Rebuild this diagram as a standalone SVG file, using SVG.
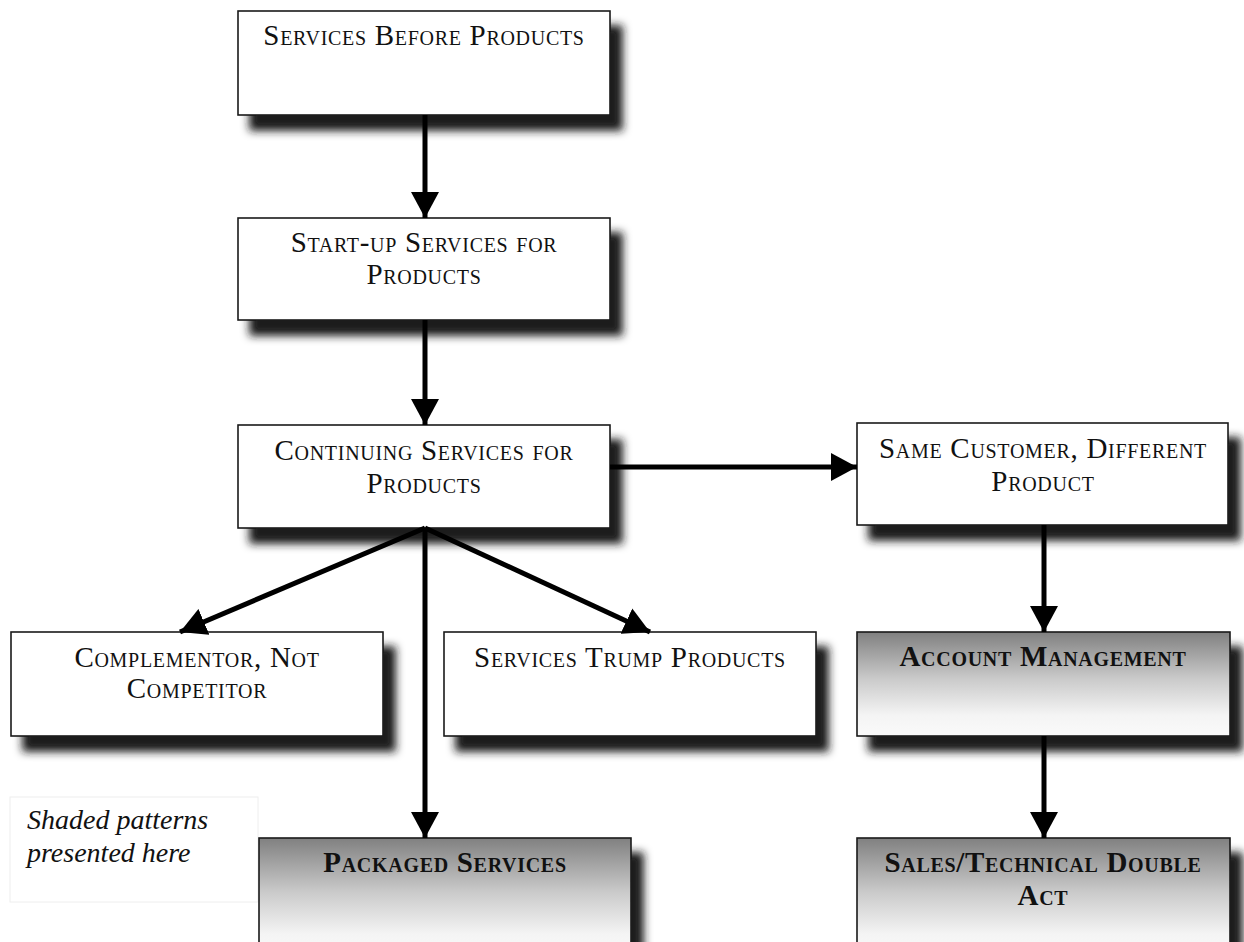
<svg xmlns="http://www.w3.org/2000/svg" width="1244" height="942" viewBox="0 0 1244 942">
<style>
.box{fill:#fff;stroke:#1a1a1a;stroke-width:1.6;filter:url(#sh)}
.gbox{fill:url(#gr);stroke:#1a1a1a;stroke-width:1.6;filter:url(#sh)}
.t{font-family:"Liberation Serif","Times New Roman",serif;font-size:29px;font-variant:small-caps;letter-spacing:0.7px;fill:#111;text-anchor:middle}
.b{font-weight:bold}
.leg{font-family:"Liberation Serif","Times New Roman",serif;font-size:28px;font-style:italic;fill:#111}
.c{stroke:#000;stroke-width:5;fill:none;marker-end:url(#ah)}
</style>
<defs>
<filter id="sh" x="-10%" y="-20%" width="130%" height="160%">
<feGaussianBlur in="SourceAlpha" stdDeviation="4.5" result="b"/>
<feOffset in="b" dx="12" dy="15" result="o"/>
<feFlood flood-color="#1a1a1a"/>
<feComposite in2="o" operator="in" result="s"/>
<feMerge><feMergeNode in="s"/><feMergeNode in="SourceGraphic"/></feMerge>
</filter>
<linearGradient id="gr" x1="0" y1="0" x2="0" y2="1">
<stop offset="0" stop-color="#808080"/>
<stop offset="0.45" stop-color="#cacaca"/>
<stop offset="0.8" stop-color="#f4f4f4"/>
<stop offset="1" stop-color="#fafafa"/>
</linearGradient>
<marker id="ah" viewBox="0 0 26 28" refX="26" refY="14" markerWidth="26" markerHeight="28" markerUnits="userSpaceOnUse" orient="auto">
<path d="M0,0 L26,14 L0,28 Z" fill="#000"/>
</marker>
</defs>

<g id="legend">
<rect x="10" y="797" width="248" height="105" fill="#fff" stroke="#eeeeee" stroke-width="1"/>
<text class="leg" x="27" y="829">Shaded patterns</text>
<text class="leg" x="27" y="862">presented here</text>
</g>

<g id="n1"><rect class="box" x="238" y="11" width="372" height="104"/>
<text class="t" x="424" y="45">Services Before Products</text></g>

<g id="n2"><rect class="box" x="238" y="218" width="372" height="102"/>
<text class="t" x="424" y="252">Start-up Services for</text>
<text class="t" x="424" y="284">Products</text></g>

<g id="n3"><rect class="box" x="238" y="425" width="372" height="103"/>
<text class="t" x="424" y="460">Continuing Services for</text>
<text class="t" x="424" y="493">Products</text></g>

<g id="n4"><rect class="box" x="857" y="423" width="371" height="102"/>
<text class="t" x="1043" y="458">Same Customer, Different</text>
<text class="t" x="1043" y="491">Product</text></g>

<g id="n5"><rect class="box" x="11" y="632" width="372" height="104"/>
<text class="t" x="197" y="667">Complementor, Not</text>
<text class="t" x="197" y="698">Competitor</text></g>

<g id="n6"><rect class="box" x="444" y="632" width="372" height="104"/>
<text class="t" x="630" y="667">Services Trump Products</text></g>

<g id="n7"><rect class="gbox" x="857" y="632" width="373" height="104"/>
<text class="t b" x="1043" y="666">Account Management</text></g>

<g id="n8"><rect class="gbox" x="259" y="838" width="372" height="120"/>
<text class="t b" x="445" y="872">Packaged Services</text></g>

<g id="n9"><rect class="gbox" x="857" y="838" width="373" height="120"/>
<text class="t b" x="1043" y="872">Sales/Technical Double</text>
<text class="t b" x="1043" y="905">Act</text></g>

<g id="connectors">
<line class="c" x1="425" y1="115" x2="425" y2="218"/>
<line class="c" x1="425" y1="320" x2="425" y2="425"/>
<line class="c" x1="610" y1="467" x2="857" y2="467"/>
<line class="c" x1="1044" y1="525" x2="1044" y2="632"/>
<line class="c" x1="1044" y1="736" x2="1044" y2="838"/>
<line class="c" x1="425" y1="528" x2="180" y2="632"/>
<line class="c" x1="425" y1="528" x2="650" y2="632"/>
<line class="c" x1="425" y1="528" x2="425" y2="838"/>
</g>
</svg>
